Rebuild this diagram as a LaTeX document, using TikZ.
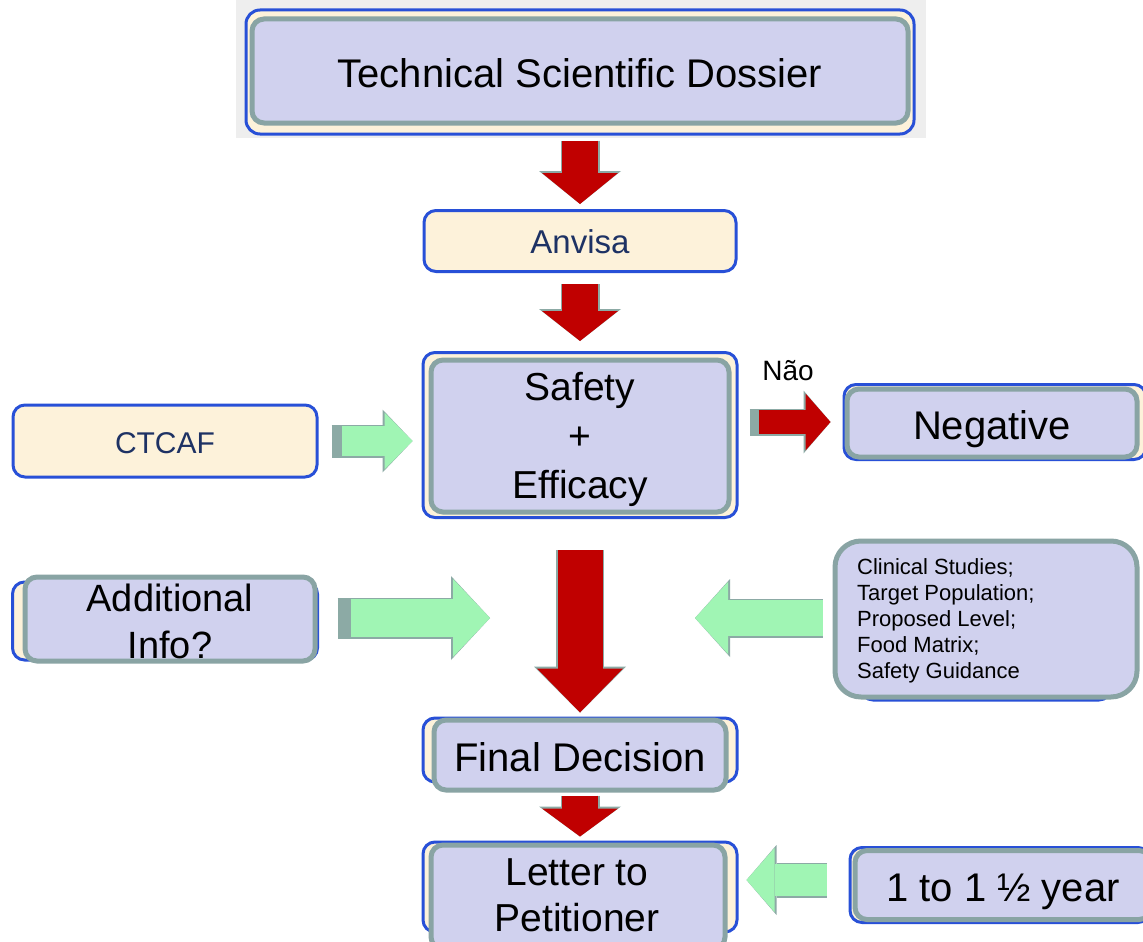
\documentclass[tikz,border=0pt]{standalone}
\usepackage{fontspec}
\setmainfont{Liberation Sans}
\usetikzlibrary{arrows.meta,calc}

\definecolor{lavender}{RGB}{208,209,238}
\definecolor{boxedge}{RGB}{137,164,164}
\definecolor{blueedge}{RGB}{40,80,215}
\definecolor{cream}{RGB}{253,242,218}
\definecolor{navytext}{RGB}{30,50,100}
\definecolor{arrowred}{RGB}{192,0,0}
\definecolor{arrowgreen}{RGB}{160,245,180}
\definecolor{arrowedge}{RGB}{140,170,165}
\definecolor{shotgray}{RGB}{238,238,238}

\tikzset{
  backbox/.style={draw=blueedge, line width=3pt, fill=cream, rounded corners=12pt, inner sep=0pt},
  frontbox/.style={draw=boxedge, line width=5pt, fill=lavender, rounded corners=12pt, inner sep=0pt},
  bigtxt/.style={font=\fontsize{40}{48}\selectfont, align=center, inner sep=0pt},
  oneline/.style={text height=40pt, text depth=8pt},
  smalltxt/.style={font=\fontsize{33}{38}\selectfont, text=navytext, text height=30pt, text depth=6pt},
  arrowstrip/.store in=\stripwd, arrowstrip=0pt,
  blockarrow/.style n args={7}{draw=#1, line width=#2,
    -{Triangle[width=#3, length=#4, line width=0pt]},
    preaction={draw=arrowedge, line width=#5, shorten <=-\stripwd,
      -{Triangle[width=#6, length=#7, line width=0pt]}}},
}

\begin{document}
\begin{tikzpicture}[x=1pt, y=-1pt]
\useasboundingbox[fill=white] (0,0) rectangle (1143,942);
\fill[shotgray] (236,0) rectangle (926,138);

% centre column
\node[backbox, rounded corners=14pt, minimum width=668pt, minimum height=124pt] (dossierframe) at (580,72) {};
\node[frontbox, bigtxt, oneline, minimum width=656pt, minimum height=104pt] (dossier) at (580,71) {Technical Scientific Dossier};

\node[backbox, smalltxt, minimum width=312pt, minimum height=61pt] (anvisa) at (580,241) {Anvisa};

\node[backbox, minimum width=314pt, minimum height=165pt] (safetyframe) at (580,435) {};
\node[frontbox, minimum width=298pt, minimum height=152pt] (safety) at (580,436) {};
\node[bigtxt, font=\fontsize{39}{49}\selectfont] (safetytext) at (580,439) {Safety\\+\\Efficacy};

\node[backbox, minimum width=314pt, minimum height=64pt] (finalframe) at (580,750) {};
\node[frontbox, bigtxt, oneline, minimum width=292pt, minimum height=70pt] (final) at (580,755) {Final Decision};

\node[backbox, minimum width=314pt, minimum height=90pt] (letterframe) at (580,887) {};
\node[frontbox, minimum width=294pt, minimum height=104pt] (letter) at (578,897) {};
\node[bigtxt, font=\fontsize{39}{46}\selectfont] (lettertext) at (577,895) {Letter to\\Petitioner};

% left side
\node[backbox, smalltxt, font=\fontsize{30}{34}\selectfont, minimum width=304pt, minimum height=72pt] (ctcaf) at (165,441) {CTCAF};

\node[backbox, minimum width=305pt, minimum height=78pt] (addinfoframe) at (165,621) {};
\node[frontbox, minimum width=290pt, minimum height=84pt] (addinfo) at (170,619) {};
\node[bigtxt, font=\fontsize{38}{47}\selectfont] (addinfotext) at (170,621) {Additional\\Info?};

% right side
\node[backbox, minimum width=302pt, minimum height=75pt] (negativeframe) at (995,422) {};
\node[frontbox, bigtxt, oneline, minimum width=290pt, minimum height=68pt] (negative) at (992,423) {Negative};
\node[font=\fontsize{28}{32}\selectfont, inner sep=0pt] (nao) at (788,371) {Não};

\node[backbox, minimum width=250pt, minimum height=150pt] (clinicalframe) at (986,625) {};
\node[frontbox, rounded corners=26pt, minimum width=302pt, minimum height=156pt] (clinical) at (986,619) {};
\node[anchor=west, align=left, inner sep=0pt, font=\fontsize{22}{26}\selectfont] (clinicaltext) at (857,621)
  {Clinical Studies;\\Target Population;\\Proposed Level;\\Food Matrix;\\Safety Guidance};

\node[backbox, minimum width=300pt, minimum height=75pt] (halfframe) at (1000,885) {};
\node[frontbox, bigtxt, oneline, minimum width=296pt, minimum height=69pt] (half) at (1003,885) {1 to 1 ½ year};

% free ends beside the big arrow
\coordinate (mergeleft) at (490,618);
\coordinate (mergeright) at (695,618);

% red arrows
\draw[blockarrow={arrowred}{36pt}{76pt}{31pt}{39pt}{82pt}{33pt}]
  ($(dossierframe.south)+(0,5)$) -- ($(anvisa.north)+(0,-5)$);
\draw[blockarrow={arrowred}{36pt}{76pt}{30pt}{39pt}{82pt}{32pt}]
  ($(anvisa.south)+(0,11)$) -- ($(safetyframe.north)+(0,-10)$);
\draw[blockarrow={arrowred}{45pt}{86pt}{44pt}{48pt}{92pt}{46pt}]
  ($(safetyframe.south)+(0,31)$) -- ($(finalframe.north)+(0,-4)$);
\draw[blockarrow={arrowred}{36pt}{76pt}{28pt}{39pt}{82pt}{30pt}]
  ($(final.south)+(0,3)$) -- ($(letterframe.north)+(0,-4)$);
\draw[blockarrow={arrowred}{24pt}{57pt}{25pt}{27pt}{63pt}{27pt}, arrowstrip=9pt]
  ($(safetyframe.east |- negativeframe.west)+(20,0)$) -- ($(negativeframe.west)+(-12,0)$);

% green arrows
\draw[blockarrow={arrowgreen}{30pt}{57pt}{28pt}{33pt}{63pt}{30pt}, arrowstrip=10pt]
  ($(ctcaf.east)+(23,0)$) -- ($(ctcaf.east -| safetyframe.west)+(-9,0)$);
\draw[blockarrow={arrowgreen}{38pt}{78pt}{37pt}{41pt}{84pt}{39pt}, arrowstrip=13pt]
  ($(addinfo.east)+(33,-1)$) -- (mergeleft);
\draw[blockarrow={arrowgreen}{36pt}{72pt}{33pt}{39pt}{78pt}{35pt}]
  ($(clinical.west)+(-10,-1)$) -- (mergeright);
\draw[blockarrow={arrowgreen}{32pt}{64pt}{28pt}{35pt}{70pt}{30pt}]
  ($(halfframe.west)+(-22,-5)$) -- ($(halfframe.west -| letterframe.east)+(8,-5)$);
\end{tikzpicture}
\end{document}
